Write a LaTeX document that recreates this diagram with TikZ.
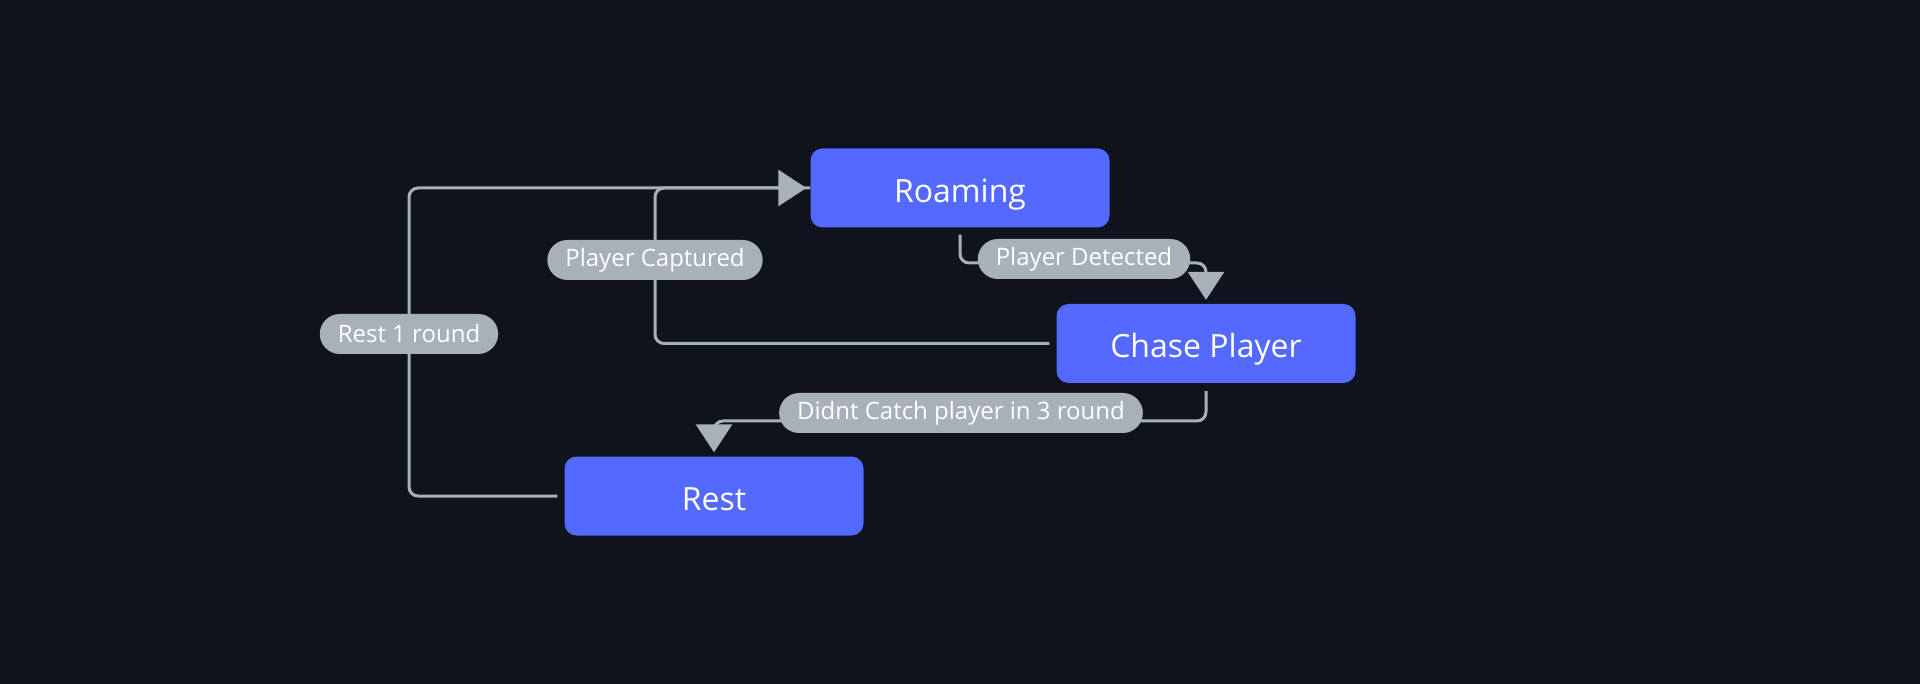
\documentclass[tikz,border=0pt]{standalone}
\usepackage{fontspec}
\setmainfont{Open Sans}
\usetikzlibrary{arrows.meta,calc}
\definecolor{bgc}{HTML}{0E131D}
\definecolor{nodeblue}{HTML}{5469FF}
\definecolor{edgegray}{HTML}{A8B0B9}
\tikzset{
  state/.style={rectangle, rounded corners=12pt, fill=nodeblue, text=white,
    minimum width=299pt, minimum height=79pt, inner sep=0pt,
    text height=29pt, text depth=0pt,
    font=\fontsize{32}{38}\selectfont},
  pill/.style={rectangle, rounded corners=20pt, fill=edgegray, text=white,
    minimum height=40pt, inner xsep=18pt, inner ysep=0pt,
    font=\fontsize{24}{28}\selectfont},
  edge/.style={draw=edgegray, line width=3pt, rounded corners=9pt},
  arr/.style={-{Triangle[length=28pt,width=36pt]}, shorten >=4pt},
}
\begin{document}
\begin{tikzpicture}[x=1pt,y=-1pt]
\fill[bgc] (0,0) rectangle (1920,684);
\useasboundingbox (0,0) rectangle (1920,684);
\node[state] (roam) at (960,188) {Roaming};
\node[state] (chase) at (1206,343.5) {Chase Player};
\node[state] (rest) at (714,496) {Rest};
\coordinate (c1) at (1206,263);
\coordinate (c2) at (655,188);
\coordinate (c3) at (714,421);
\coordinate (c4) at (409,188);
\draw[edge] ($(rest.west)+(-7,0)$) -| (c4) -- (roam.west);
\draw[edge,arr] ($(chase.west)+(-7,0)$) -| (c2) -- (roam.west);
\draw[edge,arr] ($(roam.south)+(0,7)$) |- (c1) -- (chase.north);
\draw[edge,arr] ($(chase.south)+(0,8)$) |- (c3) -- (rest.north);
\node[pill] (lpd) at (1084,259) {Player Detected};
\node[pill] (lpc) at (655,260) {Player Captured};
\node[pill] (ldc) at (961,413) {Didnt Catch player in 3 round};
\node[pill] (lrr) at (409,334) {Rest 1 round};
\end{tikzpicture}
\end{document}
